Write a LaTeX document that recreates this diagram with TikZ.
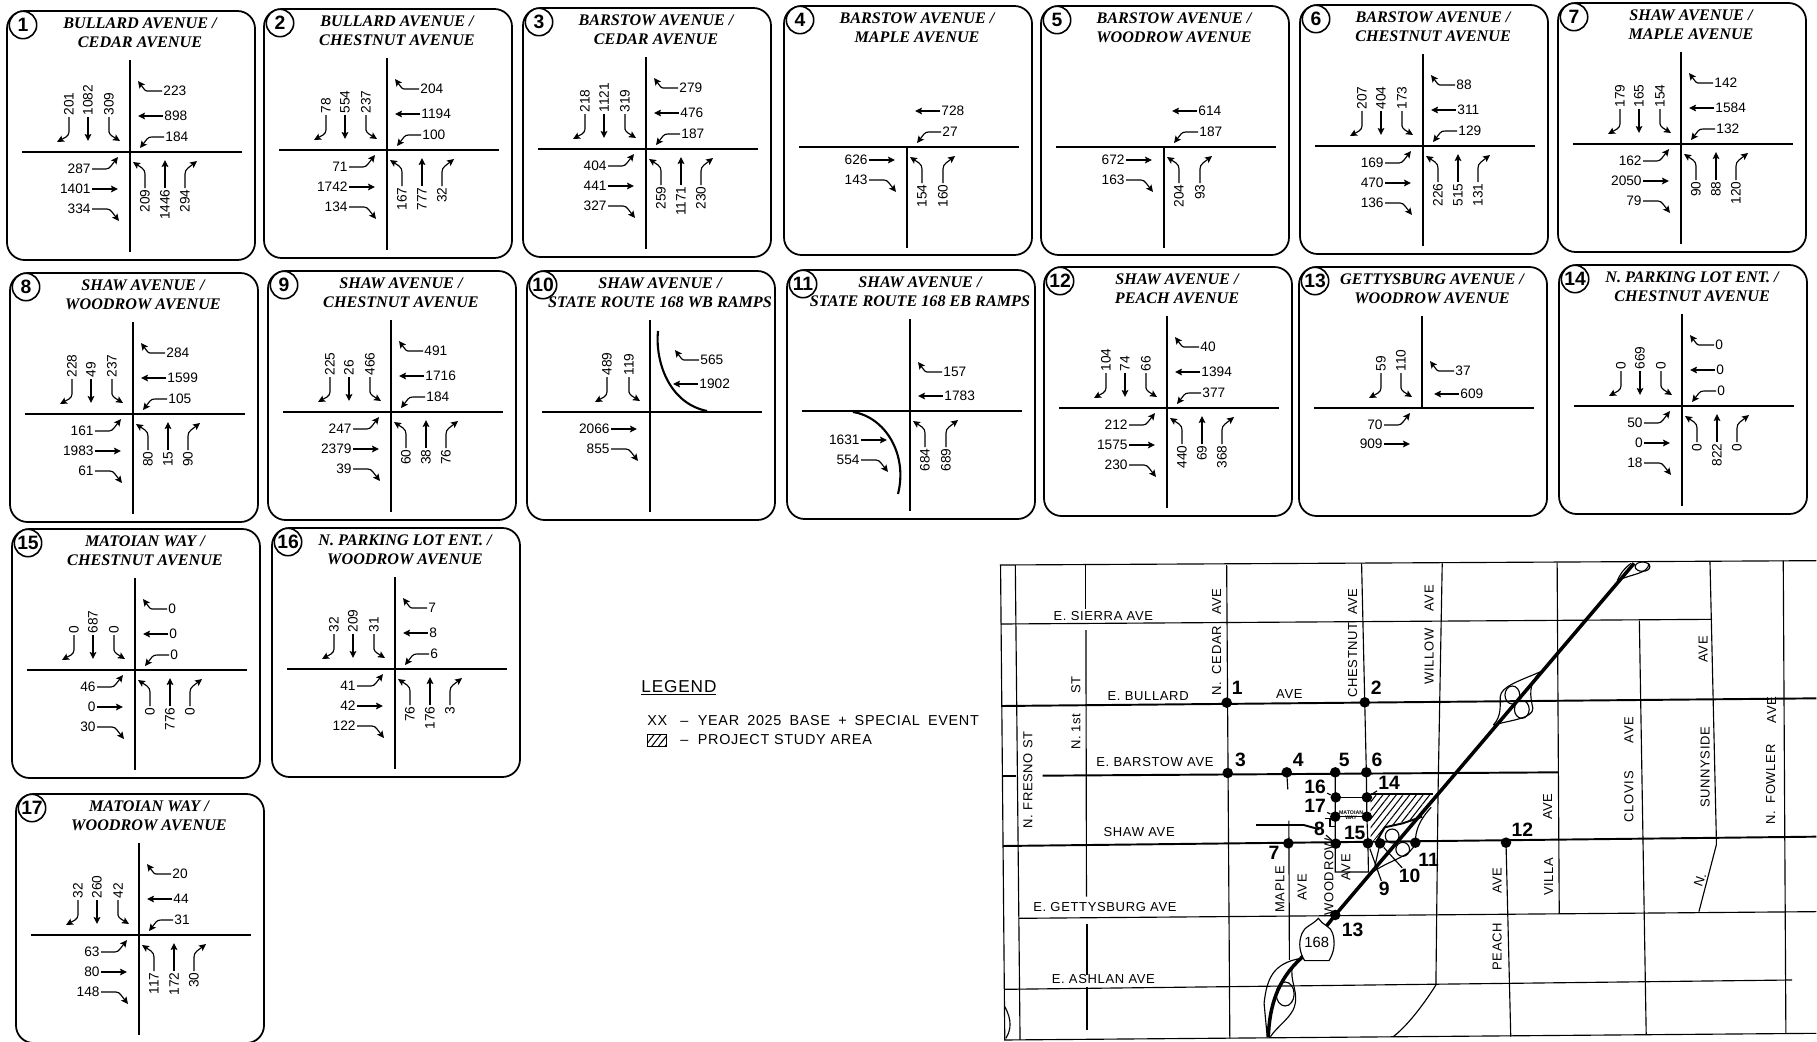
\documentclass[tikz,border=0pt]{standalone}
\usepackage{fontspec}
\setmainfont{Liberation Sans}
\newfontfamily\ttlfont{Liberation Serif}
\newfontfamily\cadfont[LetterSpace=5]{Liberation Sans}
\usetikzlibrary{arrows.meta,patterns.meta}
\tikzset{
  panelbox/.style={line width=1pt,rounded corners=10pt},
  road/.style={line width=1.2pt},
  tag/.style={draw,circle,fill=white,line width=.9pt,minimum size=15.6pt,inner sep=0pt,font=\bfseries\fontsize{11}{11}\selectfont},
  ttl/.style={align=center,font=\ttlfont\bfseries\itshape\fontsize{9.2}{10.7}\selectfont},
  vol/.style={inner sep=.6pt,font=\fontsize{7.8}{8}\selectfont},
  volN/.style={vol,rotate=90,anchor=west},
  volS/.style={vol,rotate=90,anchor=east},
  volE/.style={vol,anchor=west},
  volW/.style={vol,anchor=east},
  legline/.style={-{Stealth[length=4pt,width=3.8pt,inset=.8pt]},line width=.65pt},
  mapthin/.style={line width=.65pt},
  mapthick/.style={line width=1.1pt},
  freeway/.style={line width=2pt},
  mapdot/.style={circle,fill=black,minimum size=6pt,inner sep=0pt},
  maptag/.style={inner sep=.5pt,font=\bfseries\fontsize{11}{11}\selectfont},
  maplbl/.style={inner sep=0pt,font=\cadfont\fontsize{7.4}{8}\selectfont},
  leglbl/.style={inner sep=0pt,anchor=west,font=\cadfont\fontsize{8.2}{9}\selectfont},
  hatched/.style={pattern={Lines[angle=52,distance=3pt,line width=.6pt]}}
}
% one leg = volume label and its arrow, positions are px from the crossing
\newcommand{\legNL}[2][0,0]{\begin{scope}[shift={(#1)}]\node[volN] (vol) at (-61,-35) {#2};\draw[legline] (vol.west) -- (-61,-20) to[out=-90,in=40] (-64,-15) -- (-73,-10);\end{scope}}
\newcommand{\legNT}[2][0,0]{\begin{scope}[shift={(#1)}]\node[volN] (vol) at (-42,-35) {#2};\draw[legline] (vol.west) -- (-42,-11);\end{scope}}
\newcommand{\legNR}[2][0,0]{\begin{scope}[shift={(#1)}]\node[volN] (vol) at (-21,-35) {#2};\draw[legline] (vol.west) -- (-21,-20) to[out=-90,in=130] (-18,-16) -- (-10,-11);\end{scope}}
\newcommand{\legEL}[2][0,0]{\begin{scope}[shift={(#1)}]\node[volE] (vol) at (32,-61) {#2};\draw[legline] (vol.west) -- (17,-61) to[out=180,in=-50] (14,-63) -- (8,-71);\end{scope}}
\newcommand{\legET}[2][0,0]{\begin{scope}[shift={(#1)}]\node[volE] (vol) at (33,-36) {#2};\draw[legline] (vol.west) -- (8,-36);\end{scope}}
\newcommand{\legER}[2][0,0]{\begin{scope}[shift={(#1)}]\node[volE] (vol) at (34,-15) {#2};\draw[legline] (vol.west) -- (22,-15) to[out=180,in=50] (17,-13) -- (10,-4);\end{scope}}
\newcommand{\legWL}[2][0,0]{\begin{scope}[shift={(#1)}]\node[volW] (vol) at (-38,17) {#2};\draw[legline] (vol.east) -- (-24,17) to[out=0,in=-130] (-19,14) -- (-12,5);\end{scope}}
\newcommand{\legWT}[2][0,0]{\begin{scope}[shift={(#1)}]\node[volW] (vol) at (-38,37) {#2};\draw[legline] (vol.east) -- (-12,37);\end{scope}}
\newcommand{\legWR}[2][0,0]{\begin{scope}[shift={(#1)}]\node[volW] (vol) at (-38,57) {#2};\draw[legline] (vol.east) -- (-23,57) to[out=0,in=130] (-18,60) -- (-11,69);\end{scope}}
\newcommand{\legSL}[2][0,0]{\begin{scope}[shift={(#1)}]\node[volS] (vol) at (15,36) {#2};\draw[legline] (vol.east) -- (15,22) to[out=90,in=-40] (12,16) -- (3,10);\end{scope}}
\newcommand{\legST}[2][0,0]{\begin{scope}[shift={(#1)}]\node[volS] (vol) at (35,36) {#2};\draw[legline] (vol.east) -- (35,8);\end{scope}}
\newcommand{\legSR}[2][0,0]{\begin{scope}[shift={(#1)}]\node[volS] (vol) at (55,36) {#2};\draw[legline] (vol.east) -- (55,22) to[out=90,in=220] (58,16) -- (67,9);\end{scope}}
\newcommand{\north}[3]{\legNL{#1}\legNT{#2}\legNR{#3}}
\newcommand{\east}[3]{\legEL{#1}\legET{#2}\legER{#3}}
\newcommand{\west}[3]{\legWL{#1}\legWT{#2}\legWR{#3}}
\newcommand{\south}[3]{\legSL{#1}\legST{#2}\legSR{#3}}
% crossing x, crossing y, number, title, road top, road bottom, legs
\newcommand{\panel}[7]{\begin{scope}[shift={(#1,#2)}]
  \draw[panelbox] (-123,-141) rectangle (125,108);
  \node[tag] (num#3) at (-107,-127) {#3};
  \node[ttl] (ttl#3) at (10,-119) {#4};
  \draw[road] (-108,0) -- (112,0);
  \draw[road] (0,#5) -- (0,#6);
  #7
\end{scope}}
\begin{document}
\begin{tikzpicture}[x=0.02cm,y=-0.02cm]
\useasboundingbox (0,0) rectangle (1817,1041);
\panel{130}{152}{1}{BULLARD AVENUE /\\CEDAR AVENUE}{-92}{100}{\north{201}{1082}{309}\east{223}{898}{184}\west{287}{1401}{334}\south{209}{1446}{294}}
\panel{387}{150}{2}{BULLARD AVENUE /\\CHESTNUT AVENUE}{-92}{100}{\north{78}{554}{237}\east{204}{1194}{100}\west{71}{1742}{134}\south{167}{777}{32}}
\panel{646}{149}{3}{BARSTOW AVENUE /\\CEDAR AVENUE}{-92}{100}{\north{218}{1121}{319}\east{279}{476}{187}\west{404}{441}{327}\south{259}{1171}{230}}
\panel{907}{147}{4}{BARSTOW AVENUE /\\MAPLE AVENUE}{0}{101}{\legET{728}\legER{27}\legWT[0,-24]{626}\legWR[0,-24]{143}\legSL{154}\legSR[-19,0]{160}}
\panel{1164}{147}{5}{BARSTOW AVENUE /\\WOODROW AVENUE}{0}{101}{\legET{614}\legER{187}\legWT[0,-24]{672}\legWR[0,-24]{163}\legSL{204}\legSR[-19,0]{93}}
\panel{1423}{146}{6}{BARSTOW AVENUE /\\CHESTNUT AVENUE}{-92}{100}{\north{207}{404}{173}\east{88}{311}{129}\west{169}{470}{136}\south{226}{515}{131}}
\panel{1681}{144}{7}{SHAW AVENUE /\\MAPLE AVENUE}{-92}{100}{\north{179}{165}{154}\east{142}{1584}{132}\west{162}{2050}{79}\south{90}{88}{120}}
\panel{133}{414}{8}{SHAW AVENUE /\\WOODROW AVENUE}{-92}{100}{\north{228}{49}{237}\east{284}{1599}{105}\west{161}{1983}{61}\south{80}{15}{90}}
\panel{391}{412}{9}{SHAW AVENUE /\\CHESTNUT AVENUE}{-92}{100}{\north{225}{26}{466}\east{491}{1716}{184}\west{247}{2379}{39}\south{60}{38}{76}}
\panel{650}{412}{10}{SHAW AVENUE /\\STATE ROUTE 168 WB RAMPS}{-92}{100}{\legNL[18,0]{489}\legNR{119}\legEL[17,9]{565}\legET[15,8]{1902}\legWT[-1,-20]{2066}\legWR[-1,-20]{855}
  \draw[road] (8,-81) .. controls (5,-52) and (18,-9) .. (57,-1);}
\panel{910}{411}{11}{SHAW AVENUE /\\STATE ROUTE 168 EB RAMPS}{-92}{100}{\legEL[0,22]{157}\legET[0,21]{1783}\legWT[-11,-8]{1631}\legWR[-11,-8]{554}\legSL{684}\legSR[-19,0]{689}
  \draw[road] (-57,1) .. controls (-25,6) and (-2,43) .. (-12,83);}
\panel{1167}{408}{12}{SHAW AVENUE /\\PEACH AVENUE}{-92}{100}{\north{104}{74}{66}\east{40}{1394}{377}\west{212}{1575}{230}\south{440}{69}{368}}
\panel{1422}{408}{13}{GETTYSBURG AVENUE /\\WOODROW AVENUE}{-92}{0}{\legNL[20,0]{59}\legNR{110}\legEL[0,24]{37}\legET[4,22]{609}\legWL{70}\legWT[0,-1]{909}}
\panel{1682}{406}{14}{N. PARKING LOT ENT. /\\CHESTNUT AVENUE}{-92}{100}{\north{0}{669}{0}\east{0}{0}{0}\west{50}{0}{18}\south{0}{822}{0}}
\panel{135}{670}{15}{MATOIAN WAY /\\CHESTNUT AVENUE}{-92}{100}{\north{0}{687}{0}\east{0}{0}{0}\west{46}{0}{30}\south{0}{776}{0}}
\panel{395}{669}{16}{N. PARKING LOT ENT. /\\WOODROW AVENUE}{-92}{100}{\north{32}{209}{31}\east{7}{8}{6}\west{41}{42}{122}\south{76}{176}{3}}
\panel{139}{935}{17}{MATOIAN WAY /\\WOODROW AVENUE}{-92}{100}{\north{32}{260}{42}\east{20}{44}{31}\west{63}{80}{148}\south{117}{172}{30}}
% legend
\node[leglbl,font=\cadfont\fontsize{9.8}{10}\selectfont] (legendhead) at (641,688) {\underline{LEGEND}};
\node[leglbl] (legxx) at (647,721) {XX};
\node[leglbl] (legbase) at (680,721) {–\ \ {\spaceskip=4.6pt YEAR 2025 BASE + SPECIAL EVENT}};
\draw[hatched,line width=.5pt] (647,734) rectangle (666,746);
\node[leglbl] (legarea) at (680,740) {–\ \ PROJECT STUDY AREA};
% location map, in its own units
\begin{scope}[shift={(990,550)},x=0.010549cm,y=-0.006667cm]
\fill[hatched] (722,732) -- (840,732) -- (820,800) -- (752,830) -- (727,875) -- (722,875) -- cycle;
\draw[mapthin] (722,732) -- (840,732);
% frame and plain roads
\draw[mapthin] (1568,32) -- (20,45) -- (28,1470) -- (1568,1450);
\draw[mapthin] (48,45) -- (57,1470);
\draw[mapthin] (20,222) -- (1370,208);
\draw[mapthin] (1232,212) -- (1245,1455);
\draw[mapthin] (55,1105) -- (1568,1085);
\draw[mapthin] (28,1318) -- (1522,1290);
\foreach \xa/\ya/\xb/\yb in {181/45/181/178,182/240/183/1040,184/1122/184/1275,184/1310/184/1440,449/45/455/1465,705/40/711/457,858/40/850/735,1076/38/1080/1090,1366/35/1378/860,1505/32/1510/1450,979/878/988/1460,563/667/565/718,567/812/568/1230}
  \draw[mapthin] (\xa,\ya) -- (\xb,\yb);
\draw[mapthin] (850,735) -- (846,1305) .. controls (820,1370) and (790,1430) .. (765,1460);
\draw[mapthin] (1378,860) -- (1378,885) -- (1345,1085);
\draw[mapthin] (711,457) -- (714,667) -- (715,800) -- (717,880) -- (718,966) -- (655,966) -- (655,667);
\draw[mapthin] (656,742) -- (715,742);
\draw[mapthin] (655,800) -- (715,800);
\draw[mapthin] (635,805) -- (645,805) -- (645,830) -- (654,830);
\draw[mapthin] (28,1370) .. controls (42,1410) and (40,1440) .. (30,1465);
% heavy roads
\draw[mapthick] (22,468) -- (1568,445);
\draw[mapthick] (22,677) -- (50,677);
\draw[mapthick] (100,677) -- (1078,667);
\draw[mapthick] (25,888) -- (1568,860);
\draw[mapthick] (505,825) -- (595,825) -- (625,838);
% freeway and ramps
\draw[freeway] (1222,40) -- (655,1095) -- (590,1225) .. controls (545,1290) and (530,1370) .. (528,1462);
\draw[mapthin] (1216,40) .. controls (1200,60) and (1195,75) .. (1190,92);
\draw[mapthin] (1190,92) .. controls (1215,72) and (1250,72) .. (1250,40);
\draw[mapthin] (1238,50) circle[x radius=14,y radius=14];
\draw[mapthin] (1045,365) .. controls (1000,395) and (970,410) .. (968,440) .. controls (968,470) and (970,500) .. (955,525);
\draw[mapthin] (1045,365) .. controls (1020,400) and (1025,440) .. (1030,475) .. controls (1030,505) and (990,510) .. (955,525);
\draw[mapthin] (991,435) circle[x radius=14,y radius=27];
\draw[mapthin] (1009,478) circle[x radius=14,y radius=27];
\draw[mapthin] (763,858) circle[x radius=13,y radius=21];
\draw[mapthin] (783,898) circle[x radius=13,y radius=21];
\draw[mapthin] (837,772) .. controls (815,810) and (807,840) .. (807,878) .. controls (800,920) and (765,925) .. (727,965);
\draw[mapthick] (820,800) -- (783,820) -- (749,832) -- (733,875);
\draw[mapthin] (740,880) -- (730,950);
\draw[mapthin] (590,1225) .. controls (535,1240) and (525,1290) .. (520,1360) -- (526,1462);
\draw[mapthin] (575,1245) .. controls (565,1290) and (590,1330) .. (575,1380) .. controls (565,1410) and (545,1430) .. (532,1460);
\draw[mapthin] (560,1332) circle[x radius=17,y radius=36];
% shield
\draw[mapthin,fill=white] (623,1105) .. controls (630,1125) and (648,1130) .. (650,1150) .. controls (656,1180) and (652,1210) .. (643,1232) -- (597,1232) .. controls (588,1210) and (584,1180) .. (592,1150) .. controls (596,1130) and (612,1125) .. (623,1105) -- cycle;
\node[maplbl,font=\fontsize{8.4}{9}\selectfont] (shield) at (620,1177) {168};
% horizontal road names
\foreach \x/\y/\t [count=\i] in {215/198/{E. SIERRA AVE},300/437/{E. BULLARD},568/432/{AVE},313/635/{E. BARSTOW AVE},283/845/{SHAW AVE},218/1072/{E. GETTYSBURG AVE},215/1287/{E. ASHLAN AVE}}
  \node[maplbl] (road\i) at (\x,\y) {\t};
% vertical road names
\foreach \x/\y/\t [count=\i] in {430/155/AVE,430/300/CEDAR,430/415/N.,688/330/CHESTNUT,688/155/AVE,833/320/WILLOW,833/145/AVE,72/690/{N. FRESNO ST},163/545/{N. 1st},163/405/ST,550/1018/MAPLE,592/1012/AVE,643/980/WOODROW,675/952/AVE,962/1190/PEACH,962/992/AVE,1060/980/VILLA,1058/770/AVE,1212/740/CLOVIS,1212/540/AVE,1357/652/SUNNYSIDE,1353/298/AVE,1481/672/FOWLER,1481/803/N.,1483/480/AVE}
  \node[maplbl,rotate=90] (avenue\i) at (\x,\y) {\t};
\node[maplbl,rotate=70] (northn) at (1347,990) {N.};
\node[inner sep=0pt,font=\bfseries\fontsize{3}{3.2}\selectfont,align=center] (matoian) at (685,795) {MATOIAN\\WAY};
% numbered intersections
\foreach \n/\x/\y/\lx/\ly in {1/449/458/469/415,2/711/457/733/412,3/451/669/475/630,4/563/667/585/630,5/655/667/672/630,6/714/667/734/630,7/566/880/539/910,8/656/881/625/838,9/717/880/748/1017,10/740/880/796/978,11/807/878/832/930,12/979/878/1010/840,13/655/1095/688/1140,14/715/742/757/700,15/715/800/692/850,16/656/742/617/712,17/655/800/617/768}{
  \node[mapdot] (m\n) at (\x,\y) {};
  \node[maptag] (t\n) at (\lx,\ly) {\n};
}
\draw[mapthin] (t16) -- (m16);
\draw[mapthin] (t14) -- (m14);
\draw[mapthin] (t17) -- (m17);
\draw[mapthin] (t8) -- (m8);
\draw[mapthin] (t9) -- (m9);
\draw[mapthin] (t10) -- (m10);
\end{scope}
\end{tikzpicture}
\end{document}
